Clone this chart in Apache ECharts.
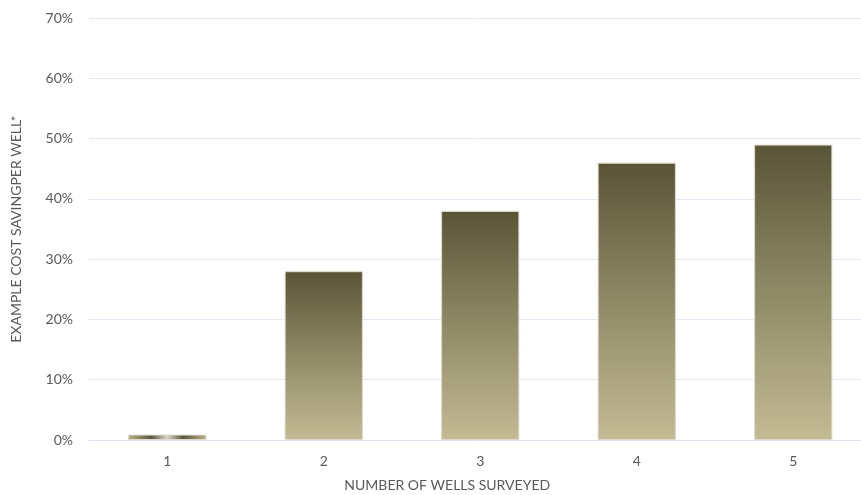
<!DOCTYPE html>
<html>
<head>
<meta charset="utf-8">
<script src="https://cdn.jsdelivr.net/npm/echarts@6/dist/echarts.min.js"></script>
<style>
html,body{margin:0;padding:0;background:#fff;}
#chart{width:861px;height:495px;}
</style>
</head>
<body>
<div id="chart"></div>
<script>
// Number of wells surveyed vs. example cost saving per well
var categories = ['1', '2', '3', '4', '5'];
var savings = [0.9, 28, 38, 46, 49];
var yTicks = [0, 10, 20, 30, 40, 50, 60, 70];

var chart = echarts.init(document.getElementById('chart'));

var vertGrad = new echarts.graphic.LinearGradient(0, 0, 0, 1, [
  { offset: 0, color: '#5a5437' },
  { offset: 0.5, color: '#8e8a66' },
  { offset: 1, color: '#c4ba94' }
]);
// very short bars show the fill sideways
var flatGrad = new echarts.graphic.LinearGradient(0, 0, 1, 0, [
  { offset: 0, color: '#b9b28a' },
  { offset: 0.3, color: '#5c573c' },
  { offset: 0.5, color: '#d9d7cc' },
  { offset: 0.7, color: '#5c573c' },
  { offset: 1, color: '#b9b28a' }
]);

var barData = savings.map(function (v) {
  return {
    value: v,
    itemStyle: { color: v < 3 ? flatGrad : vertGrad }
  };
});

var font = 'Lato, "Open Sans", sans-serif';

chart.setOption({
  animation: false,
  grid: { left: 89, width: 782.5, top: 18, bottom: 55, containLabel: false, outerBoundsMode: 'none' },
  xAxis: {
    type: 'category',
    data: categories,
    name: 'NUMBER OF WELLS SURVEYED',
    nameLocation: 'middle',
    nameGap: 38,
    nameTextStyle: { color: '#595959', fontSize: 14, fontFamily: font, padding: [0, 66, 0, 0] },
    axisLine: { lineStyle: { color: '#dbe3ef', width: 1 } },
    axisTick: { show: false },
    axisLabel: { color: '#595959', fontSize: 14, fontFamily: font, margin: 14 }
  },
  yAxis: {
    type: 'value',
    min: yTicks[0],
    max: yTicks[yTicks.length - 1],
    interval: 10,
    name: 'EXAMPLE COST SAVINGPER WELL*',
    nameLocation: 'middle',
    nameGap: 66,
    nameTextStyle: { color: '#595959', fontSize: 14, fontFamily: font },
    axisLine: { show: false },
    axisTick: { show: false },
    axisLabel: { color: '#595959', fontSize: 14, fontFamily: font, margin: 16, formatter: '{value}%' },
    splitLine: { lineStyle: { color: '#e3e9f2', width: 1 } }
  },
  series: [{
    type: 'bar',
    data: barData,
    barWidth: '50%',
    itemStyle: { borderColor: '#dcd9cc', borderWidth: 1 }
  }]
});
</script>
</body>
</html>
